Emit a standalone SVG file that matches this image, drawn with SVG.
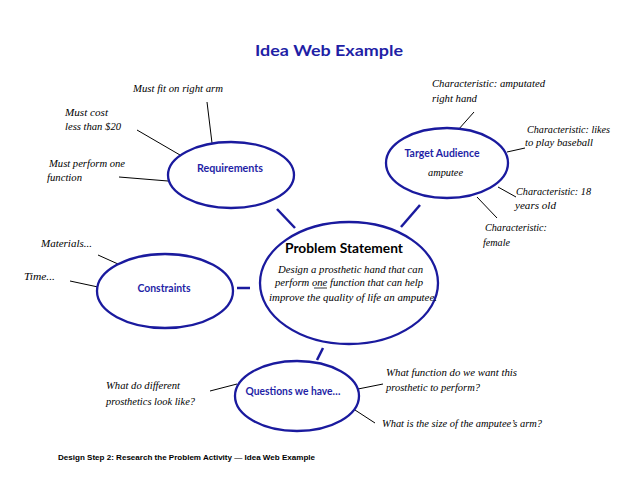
<svg xmlns="http://www.w3.org/2000/svg" width="638" height="493" viewBox="0 0 638 493">
<style>
.node{fill:#fff;stroke:#1a1a9e;stroke-width:2.3}
.lab{font-family:Lato,"Open Sans","Liberation Sans",sans-serif;font-weight:bold;fill:#1f1fa6;text-anchor:middle}
.scr{font-family:"Liberation Serif","DejaVu Serif",serif;font-style:italic;font-size:11px;fill:#000}
.blue{stroke:#1a1a9e;stroke-width:2.5;fill:none}
.thin{stroke:#000;stroke-width:1;fill:none}
</style>
<rect width="638" height="493" fill="#fff"/>
<text x="329" y="56" class="lab" font-size="15" textLength="148" lengthAdjust="spacingAndGlyphs">Idea Web Example</text>

<g id="connectors">
<line class="blue" x1="277" y1="209" x2="295" y2="228"/>
<line class="blue" x1="420" y1="205" x2="401" y2="227"/>
<line class="blue" x1="237" y1="288" x2="250" y2="288"/>
<line class="blue" x1="323" y1="348" x2="317" y2="360"/>
<line class="thin" x1="207" y1="102" x2="212" y2="143"/>
<line class="thin" x1="137" y1="130" x2="180" y2="155"/>
<line class="thin" x1="119" y1="177" x2="168" y2="181"/>
<line class="thin" x1="474" y1="112" x2="458" y2="130"/>
<line class="thin" x1="525" y1="148" x2="507" y2="152"/>
<line class="thin" x1="498" y1="187" x2="516" y2="197"/>
<line class="thin" x1="477" y1="197" x2="497" y2="218"/>
<line class="thin" x1="98" y1="255" x2="118" y2="264"/>
<line class="thin" x1="70" y1="281" x2="98" y2="287"/>
<line class="thin" x1="210" y1="391" x2="237" y2="384"/>
<line class="thin" x1="358" y1="389" x2="383" y2="384"/>
<line class="thin" x1="355" y1="410" x2="375" y2="423"/>
</g>

<g id="requirements">
<ellipse class="node" cx="231" cy="175" rx="63" ry="33"/>
<text x="230" y="172" class="lab" font-size="11" textLength="66" lengthAdjust="spacingAndGlyphs">Requirements</text>
</g>
<g id="requirements-notes">
<text x="133" y="92" class="scr" textLength="90" lengthAdjust="spacingAndGlyphs">Must fit on right arm</text>
<text x="65" y="116" class="scr" textLength="43" lengthAdjust="spacingAndGlyphs">Must cost</text>
<text x="65" y="130" class="scr" textLength="56" lengthAdjust="spacingAndGlyphs">less than $20</text>
<text x="49" y="167" class="scr" textLength="76" lengthAdjust="spacingAndGlyphs">Must perform one</text>
<text x="47" y="181" class="scr" textLength="35" lengthAdjust="spacingAndGlyphs">function</text>
</g>

<g id="target-audience">
<ellipse class="node" cx="447" cy="163" rx="61" ry="35"/>
<text x="442" y="157" class="lab" font-size="11" textLength="75" lengthAdjust="spacingAndGlyphs">Target Audience</text>
<text x="428" y="176" class="scr" textLength="35" lengthAdjust="spacingAndGlyphs">amputee</text>
</g>
<g id="target-notes">
<text x="432" y="87" class="scr" textLength="113" lengthAdjust="spacingAndGlyphs">Characteristic:  amputated</text>
<text x="432" y="102" class="scr" textLength="45" lengthAdjust="spacingAndGlyphs">right hand</text>
<text x="527" y="133" class="scr" textLength="83" lengthAdjust="spacingAndGlyphs">Characteristic: likes</text>
<text x="525" y="146" class="scr" textLength="68" lengthAdjust="spacingAndGlyphs">to play baseball</text>
<text x="516" y="195" class="scr" textLength="75" lengthAdjust="spacingAndGlyphs">Characteristic: 18</text>
<text x="515" y="209" class="scr" textLength="41" lengthAdjust="spacingAndGlyphs">years old</text>
<text x="485" y="231" class="scr" textLength="62" lengthAdjust="spacingAndGlyphs">Characteristic:</text>
<text x="483" y="246" class="scr" textLength="27" lengthAdjust="spacingAndGlyphs">female</text>
</g>

<g id="constraints">
<ellipse class="node" cx="165" cy="291" rx="68" ry="37"/>
<text x="164" y="292" class="lab" font-size="11" textLength="53" lengthAdjust="spacingAndGlyphs">Constraints</text>
</g>
<g id="constraints-notes">
<text x="41" y="247" class="scr" textLength="51" lengthAdjust="spacingAndGlyphs">Materials...</text>
<text x="24" y="280" class="scr" textLength="31" lengthAdjust="spacingAndGlyphs">Time...</text>
</g>

<g id="problem-statement">
<ellipse class="node" cx="349" cy="283" rx="89" ry="61"/>
<text x="344" y="253" font-family="Lato,'Open Sans','Liberation Sans',sans-serif" font-weight="bold" font-size="14" fill="#000" text-anchor="middle" textLength="118" lengthAdjust="spacingAndGlyphs">Problem Statement</text>
<text x="278" y="273" class="scr" textLength="145" lengthAdjust="spacingAndGlyphs">Design a prosthetic hand that can</text>
<text x="275" y="286" class="scr" textLength="148" lengthAdjust="spacingAndGlyphs">perform one function that can help</text>
<line x1="314" y1="288" x2="327" y2="288" stroke="#000" stroke-width="0.8"/>
<text x="269" y="301" class="scr" textLength="168" lengthAdjust="spacingAndGlyphs">improve the quality of life an amputee.</text>
</g>

<g id="questions">
<ellipse class="node" cx="297" cy="396" rx="62" ry="35"/>
<text x="293" y="395" class="lab" font-size="11" textLength="95" lengthAdjust="spacingAndGlyphs">Questions we have…</text>
</g>
<g id="questions-notes">
<text x="106" y="389" class="scr" textLength="74" lengthAdjust="spacingAndGlyphs">What do different</text>
<text x="106" y="405" class="scr" textLength="89" lengthAdjust="spacingAndGlyphs">prosthetics look like?</text>
<text x="386" y="376" class="scr" textLength="131" lengthAdjust="spacingAndGlyphs">What function do we want this</text>
<text x="386" y="391" class="scr" textLength="94" lengthAdjust="spacingAndGlyphs">prosthetic to perform?</text>
<text x="382" y="427" class="scr" textLength="160" lengthAdjust="spacingAndGlyphs">What is the size of the amputee’s arm?</text>
</g>

<text x="58" y="460" font-family="'Liberation Sans',Arial,sans-serif" font-weight="bold" font-size="8" fill="#000" textLength="257" lengthAdjust="spacingAndGlyphs">Design Step 2: Research the Problem Activity — Idea Web Example</text>
</svg>
